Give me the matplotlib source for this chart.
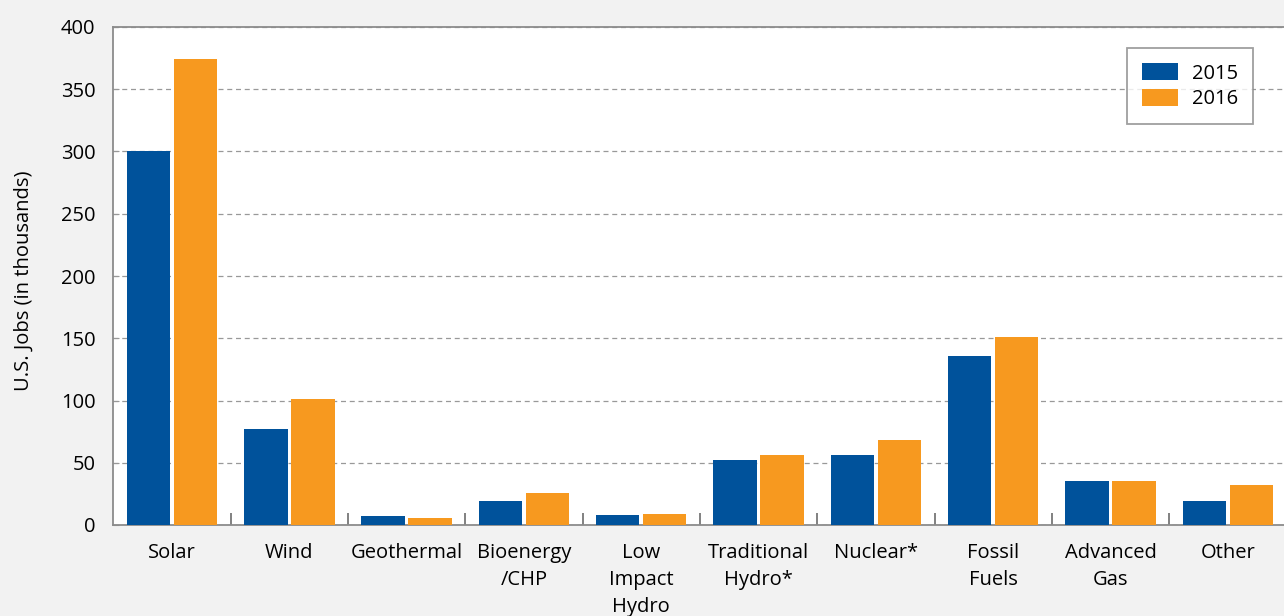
import matplotlib.pyplot as plt
import numpy as np

categories = ['Solar', 'Wind', 'Geothermal', 'Bioenergy\n/CHP', 'Low\nImpact\nHydro',
              'Traditional\nHydro*', 'Nuclear*', 'Fossil\nFuels', 'Advanced\nGas', 'Other']
jobs_2015 = [300, 77, 7.5, 19.5, 8.3, 52.4, 56.5, 136, 35.6, 19.5]
jobs_2016 = [374, 101, 5.9, 26, 9, 56.5, 68.5, 151, 35.6, 32.4]

plt.rcParams['font.family'] = ['Open Sans', 'DejaVu Sans']

fig = plt.figure(figsize=(12.84, 6.16), dpi=100, facecolor='#f2f2f2')
ax = fig.add_axes([113.4 / 1284, 91 / 616, 1173 / 1284, 498 / 616])
ax.set_facecolor('white')

x = np.arange(len(categories))
ax.bar(x - 0.2, jobs_2015, width=0.37, color='#00529b', label='2015', zorder=3)
ax.bar(x + 0.2, jobs_2016, width=0.37, color='#f7991f', label='2016', zorder=3)

ax.set_xlim(-0.5, len(categories) - 0.5)
ax.set_ylim(0, 400)
ax.set_yticks(range(0, 401, 50))
ax.yaxis.grid(True, linestyle=(0, (4, 3)), color='#999999', linewidth=0.9, zorder=1)

ax.set_xticks(x)
ax.set_xticklabels(categories, fontsize=14.5, linespacing=1.45, va='top')
ax.set_xticks(np.arange(0.5, len(categories) - 0.5), minor=True)
ax.tick_params(axis='x', which='major', length=0, pad=13)
ax.tick_params(axis='x', which='minor', direction='in', length=9, color='#777777', width=1.3)
ax.tick_params(axis='y', direction='in', length=4, color='#999999', labelsize=14.5, pad=13)

for s in ax.spines.values():
    s.set_color('#8c8c8c')
    s.set_linewidth(1.3)

ax.set_ylabel('U.S. Jobs (in thousands)', fontsize=14.5)
ax.yaxis.set_label_coords(-0.068, 0.49)

leg = ax.legend(loc='upper right', bbox_to_anchor=((1253 - 113.4) / 1173, 1 - 21 / 498),
                fontsize=14.5, frameon=True, fancybox=False, edgecolor='#888888',
                handlelength=1.75, handleheight=0.95, borderpad=0.75, labelspacing=0.25,
                handletextpad=0.7, borderaxespad=0)
leg.get_frame().set_linewidth(1.3)

fig.savefig('out.png', dpi=100, facecolor=fig.get_facecolor())
